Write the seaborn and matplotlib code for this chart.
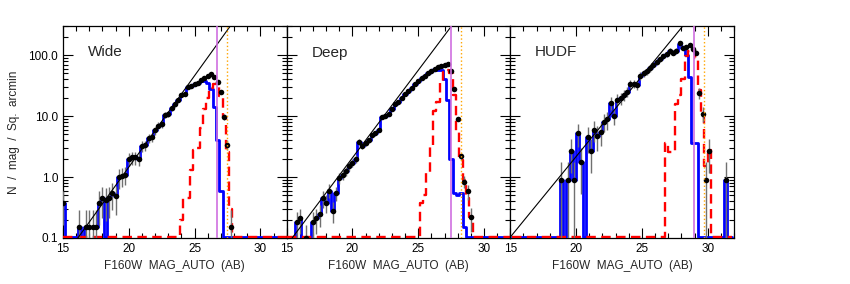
import numpy as np
import pandas as pd
import seaborn as sns
import matplotlib.pyplot as plt
from matplotlib.ticker import MultipleLocator, LogLocator, FuncFormatter

# number counts per 0.25 mag bin (N / mag / sq. arcmin)
# Wide and Deep bins are centred on 15.0, 15.25, ... 32.0 ; HUDF on 15.125 ... 31.875
wide_grid = np.arange(15.0, 32.01, 0.25)
deep_grid = np.arange(15.0, 32.01, 0.25)
hudf_grid = np.arange(15.125, 31.9, 0.25)

# one row per magnitude
wide_all = [0.38, 0, 0, 0,
            0, 0.15, 0, 0.15,
            0.15, 0.15, 0.15, 0.38,
            0.45, 0.42, 0.45, 0.55,
            0.48, 1.0, 1.05, 1.1,
            2.0, 2.1, 2.1, 2.0,
            3.2, 3.3, 4.3, 4.5,
            5.8, 7.0, 7.3, 10.5,
            11, 13.5, 15.5, 18,
            22.5, 23, 30, 31,
            33, 35, 39, 42,
            46, 49, 44, 36,
            25, 9.6, 3.4, 0.15,
            0, 0, 0, 0,
            0, 0, 0, 0,
            0, 0, 0, 0,
            0, 0, 0, 0,
            0]
wide_good = [0.38, 0, 0, 0,
             0, 0.15, 0, 0.15,
             0.15, 0.15, 0.15, 0.38,
             0.45, 0, 0.45, 0.55,
             0.48, 1.0, 1.05, 1.1,
             2.0, 2.1, 2.1, 2.0,
             3.2, 3.3, 4.3, 4.5,
             5.8, 7.0, 7.3, 10.5,
             11, 13.5, 15.5, 18,
             22.5, 23, 30, 31,
             33, 35, 37, 37,
             35, 28, 14, 4.1,
             0.6, 0, 0, 0,
             0, 0, 0, 0,
             0, 0, 0, 0,
             0, 0, 0, 0,
             0, 0, 0, 0,
             0]
wide_faint = [0, 0, 0, 0,
              0, 0, 0, 0,
              0, 0, 0, 0,
              0, 0, 0, 0,
              0, 0, 0, 0,
              0, 0, 0, 0,
              0, 0, 0, 0,
              0, 0, 0, 0,
              0, 0, 0, 0,
              0.2, 0.45, 0.45, 1.3,
              2.8, 3.0, 6.3, 13,
              20, 29, 33, 30,
              21, 9.6, 2.6, 0.3,
              0, 0, 0, 0,
              0, 0, 0, 0,
              0, 0, 0, 0,
              0, 0, 0, 0,
              0]

deep_all = [0, 0, 0, 0.18,
            0.21, 0, 0.1, 0,
            0.18, 0.21, 0.25, 0.45,
            0.38, 0.6, 0.28, 0.55,
            0.95, 1.1, 1.25, 1.5,
            1.7, 2.0, 3.8, 3.2,
            3.6, 4.0, 4.8, 5.3,
            6.0, 9.5, 10, 11,
            13, 15.5, 17, 20,
            23, 26, 29, 33,
            37, 42, 46, 50,
            54, 59, 63, 67,
            70, 71, 54, 28,
            9, 2.2, 0.84, 0.58,
            0.22, 0, 0, 0,
            0, 0, 0, 0,
            0, 0, 0, 0,
            0]
deep_good = [0, 0, 0, 0.18,
             0.21, 0, 0, 0,
             0.18, 0.21, 0.25, 0.45,
             0.38, 0.6, 0.28, 0.55,
             0.95, 1.1, 1.25, 1.5,
             1.7, 2.0, 3.8, 3.2,
             3.6, 4.0, 4.8, 5.3,
             6.0, 9.5, 10, 11,
             13, 15.5, 17, 20,
             23, 26, 29, 33,
             37, 42, 46, 50,
             54, 59, 58, 58,
             40, 18, 2.0, 0.55,
             0.5, 0.55, 0.15, 0,
             0, 0, 0, 0,
             0, 0, 0, 0,
             0, 0, 0, 0,
             0]
deep_faint = [0, 0, 0, 0,
              0, 0, 0, 0,
              0, 0, 0, 0,
              0, 0, 0, 0,
              0, 0, 0, 0,
              0, 0, 0, 0,
              0, 0, 0, 0,
              0, 0, 0, 0,
              0, 0, 0, 0,
              0, 0, 0, 0,
              0, 0.37, 0.5, 1.2,
              3.3, 12, 17, 36,
              52, 56, 50, 22,
              5.5, 1.9, 0.9, 0.45,
              0.22, 0, 0, 0,
              0, 0, 0, 0,
              0, 0, 0, 0,
              0]

hudf_all = [0, 0, 0, 0,
            0, 0, 0, 0,
            0, 0, 0, 0,
            0, 0, 0, 0.89,
            0, 0.89, 2.7, 0.89,
            5.3, 1.78, 0, 4.5,
            2.7, 6.0, 4.7, 5.5,
            8.1, 8.8, 16.6, 10,
            18.6, 19.5, 22, 25,
            34, 34, 32, 46,
            50, 54, 61, 69,
            78, 85, 96, 104,
            118, 110, 118, 155,
            130, 137, 145, 125,
            110, 24, 11, 0.89,
            2.7, 0, 0, 0,
            0, 0.89, 0, 0]
hudf_good = [0, 0, 0, 0,
             0, 0, 0, 0,
             0, 0, 0, 0,
             0, 0, 0, 0.89,
             0, 0.89, 2.7, 0.89,
             5.3, 1.78, 0, 4.5,
             2.7, 6.0, 4.7, 5.5,
             8.1, 8.8, 16.6, 10,
             18.6, 19.5, 22, 25,
             34, 34, 32, 46,
             50, 54, 61, 69,
             78, 85, 96, 104,
             118, 110, 118, 150,
             130, 100, 44, 3.6,
             3.6, 0, 0, 0,
             0, 0, 0, 0,
             0, 0.89, 0, 0]
hudf_faint = [0, 0, 0, 0,
              0, 0, 0, 0,
              0, 0, 0, 0,
              0, 0, 0, 0,
              0, 0, 0, 0,
              0, 0, 0, 0,
              0, 0, 0, 0,
              0, 0, 0, 0,
              0, 0, 0, 0,
              0, 0, 0, 0,
              0, 0, 0, 0,
              0, 0, 0, 3.6,
              2.6, 2.6, 16, 22,
              40, 95, 115, 120,
              90, 27, 10, 1.5,
              2.8, 0, 0, 0,
              0, 0, 0, 0]

fields = ['Wide', 'Deep', 'HUDF']
# counts per unit of plotted density, for the Poisson error bars
field_area = [8.0, 25.0, 1.12]
# power-law fit: log N = slope * (m - m0)
fit_slope = [0.30, 0.287, 0.264]
fit_m0 = [19.46, 18.9, 18.73]
# completeness limits
limit_violet = [26.72, 27.5, 28.95]
limit_orange = [27.5, 28.25, 29.7]

grids = [wide_grid, deep_grid, hudf_grid]
all_counts = [wide_all, deep_all, hudf_all]
good_counts = [wide_good, deep_good, hudf_good]
faint_counts = [wide_faint, deep_faint, hudf_faint]

sns.set_style('ticks')
plt.rcParams['font.family'] = ['Liberation Sans', 'DejaVu Sans']

fig, axes = plt.subplots(1, 3, figsize=(8.5, 2.84), dpi=100, sharey=True)
plt.subplots_adjust(left=63/850, right=734/850, bottom=1-238/284, top=1-26/284, wspace=0)

# empty bins are drawn just above the bottom axis so they stay visible
floor = 0.104
for i, ax in enumerate(axes):
    ax.set_yscale('log')
    df = pd.DataFrame({'mag': grids[i], 'all': all_counts[i],
                       'good': good_counts[i], 'faint': faint_counts[i]})
    sns.lineplot(x=df['mag'], y=df['good'].clip(lower=floor), drawstyle='steps-mid',
                 color='#0000ff', lw=2.0, ax=ax, zorder=3)
    sns.lineplot(x=df['mag'], y=df['faint'].clip(lower=floor), drawstyle='steps-mid',
                 color='#ff0000', lw=1.7, linestyle=(0, (4, 2.3)), ax=ax, zorder=3.5)

    pts = df[df['all'] > 0]
    err = np.sqrt(pts['all'] / field_area[i])
    lo = np.maximum(pts['all'] - err, 0.01)
    hi = pts['all'] + err
    ax.vlines(pts['mag'], lo, hi, color='#707070', lw=1.0, zorder=4)
    sns.scatterplot(x=pts['mag'], y=pts['all'], color='black', s=16, linewidth=0,
                    ax=ax, zorder=5)

    m_line = np.array([15.0, 32.0])
    sns.lineplot(x=m_line, y=10 ** (fit_slope[i] * (m_line - fit_m0[i])),
                 color='black', lw=0.8, ax=ax, zorder=6)
    ax.axvline(limit_violet[i], color='#d070e0', lw=1.2, zorder=7)
    ax.axvline(limit_orange[i], color='#ffa500', lw=1.0, linestyle=':', zorder=7)

    ax.text(0.11, 0.875, fields[i], transform=ax.transAxes, fontsize=11, va='center')

    ax.set_xlim(15, 32)
    ax.set_ylim(0.1, 300)
    ax.xaxis.set_major_locator(MultipleLocator(5))
    ax.xaxis.set_minor_locator(MultipleLocator(1))
    ax.yaxis.set_major_locator(LogLocator(base=10, numticks=10))
    ax.yaxis.set_minor_locator(LogLocator(base=10, subs=np.arange(2, 10), numticks=10))
    ax.tick_params(which='both', direction='in', top=True, right=True, labelsize=8.5,
                   width=0.8, colors='black')
    ax.tick_params(which='major', length=7)
    ax.tick_params(which='minor', length=3.5)
    for s in ax.spines.values():
        s.set_linewidth(0.9)
        s.set_color('black')
    ax.set_xlabel('F160W  MAG_AUTO  (AB)', fontsize=8.5)
    ax.set_ylabel('')

axes[0].yaxis.set_major_formatter(FuncFormatter(lambda v, p: f'{v:.1f}'))
axes[0].set_ylabel('N  /  mag  /  Sq.  arcmin', fontsize=8.5, labelpad=6)

fig.savefig('out.png', dpi=100)
